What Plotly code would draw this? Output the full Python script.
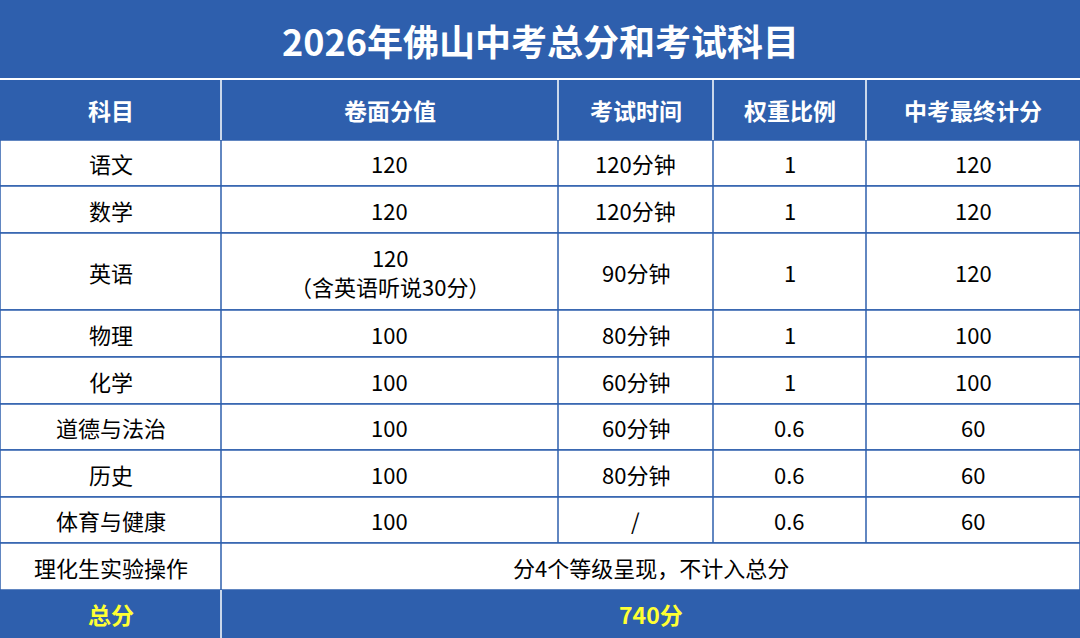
import plotly.graph_objects as go

title = "2026年佛山中考总分和考试科目"
headers = ["科目", "卷面分值", "考试时间", "权重比例", "中考最终计分"]
subjects = ["语文", "数学", "英语", "物理", "化学", "道德与法治", "历史", "体育与健康"]
paper_scores = ["120", "120", "120<br>（含英语听说30分）", "100", "100", "100", "100", "100"]
exam_times = ["120分钟", "120分钟", "90分钟", "80分钟", "60分钟", "60分钟", "80分钟", "/"]
weights = ["1", "1", "1", "1", "1", "0.6", "0.6", "0.6"]
final_scores = ["120", "120", "120", "100", "100", "60", "60", "60"]
lab_label = "理化生实验操作"
lab_note = "分4个等级呈现，不计入总分"
total_label = "总分"
total_value = "740分"

W, H = 1080, 638
BLUE = "#2E5FAD"
FONT = "Noto Sans CJK SC"
col_edges = [0, 221, 558, 713, 866, 1080]
row_edges = [140, 186, 233, 310, 357, 404, 450, 497, 543]
lab_row = (543, 590)
total_row = (590, 638)

shapes, ann = [], []
def rect(x0, y0, x1, y1, fill, line="white", lw=0):
    shapes.append(dict(type="rect", x0=x0, y0=y0, x1=x1, y1=y1, fillcolor=fill,
                       line=dict(color=line, width=lw), layer="below"))
def text(x, y, t, color="black", size=22, bold=False):
    ann.append(dict(x=x, y=y, text=f"<b>{t}</b>" if bold else t, showarrow=False,
                    font=dict(family=FONT, size=size, color=color), xanchor="center", yanchor="middle"))
def cx(i, j=None):
    j = i if j is None else j
    return (col_edges[i] + col_edges[j + 1]) / 2

rect(0, 0, W, 78, BLUE)
text(W / 2, 40, title, "white", 36, True)
rect(0, 80, W, 140, BLUE)
for i, h in enumerate(headers):
    text(cx(i), 110, h, "white", 23, True)
    if i:
        shapes.append(dict(type="line", x0=col_edges[i], x1=col_edges[i], y0=80, y1=140, line=dict(color="white", width=1.5)))

cols = [subjects, paper_scores, exam_times, weights, final_scores]
for r in range(len(subjects)):
    y0, y1 = row_edges[r], row_edges[r + 1]
    rect(0, y0, W, y1, "white", BLUE, 1.5)
    for i in range(5):
        text(cx(i), (y0 + y1) / 2, cols[i][r], "black", 22)
        if i:
            shapes.append(dict(type="line", x0=col_edges[i], x1=col_edges[i], y0=y0, y1=y1, line=dict(color=BLUE, width=1.5)))

y0, y1 = lab_row
rect(0, y0, W, y1, "white", BLUE, 1.5)
shapes.append(dict(type="line", x0=221, x1=221, y0=y0, y1=y1, line=dict(color=BLUE, width=1.5)))
text(cx(0), (y0 + y1) / 2, lab_label, "black", 22)
text(cx(1, 4), (y0 + y1) / 2, lab_note, "black", 22)

y0, y1 = total_row
rect(0, y0, W, y1, BLUE)
shapes.append(dict(type="line", x0=221, x1=221, y0=y0, y1=y1, line=dict(color="white", width=1.5)))
text(cx(0), (y0 + y1) / 2, total_label, "#FFFF33", 23, True)
text(cx(1, 4), (y0 + y1) / 2, total_value, "#FFFF33", 23, True)

fig = go.Figure()
fig.update_layout(width=W, height=H, margin=dict(l=0, r=0, t=0, b=0),
                  paper_bgcolor="white", plot_bgcolor="white", shapes=shapes, annotations=ann,
                  xaxis=dict(range=[0, W], visible=False, fixedrange=True),
                  yaxis=dict(range=[H, 0], visible=False, fixedrange=True), showlegend=False)
fig.write_html("out.html", config={"displayModeBar": False},
               post_script="document.body.style.margin='0';document.body.style.overflow='hidden';")
